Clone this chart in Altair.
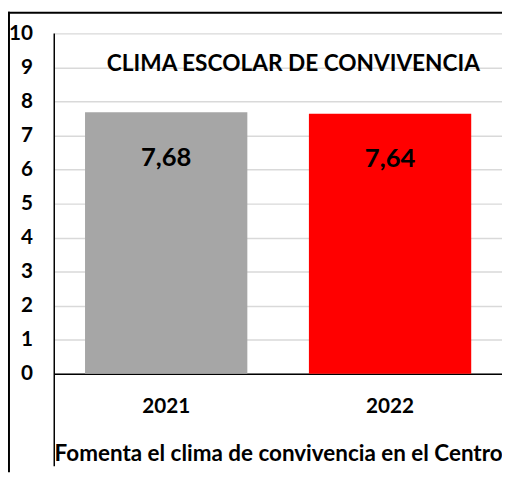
import altair as alt
import pandas as pd

years = ["2021", "2022"]
values = [7.68, 7.64]
colors = ["#A6A6A6", "#FF0000"]
chart_title = "CLIMA ESCOLAR DE CONVIVENCIA"
x_title = "Fomenta el clima de convivencia en el Centro"
y_ticks = list(range(0, 11))

df = pd.DataFrame({
    "year": years,
    "value": values,
    "label": [f"{v:.2f}".replace(".", ",") for v in values],
    "color": colors,
})

FONT = "Lato"
W, H = 455, 346

x_enc = alt.X("year:N", sort=years,
              scale=alt.Scale(paddingInner=0.275, paddingOuter=0.1375),
              axis=alt.Axis(title=x_title, labelAngle=0, ticks=False,
                            domainColor="black", domainWidth=1.5,
                            labelFont=FONT, labelFontSize=21, labelFontWeight="bold",
                            labelColor="black", labelPadding=22,
                            titleFont=FONT, titleFontSize=22.8, titleFontWeight="bold",
                            titleColor="black", titlePadding=27, grid=False))
y_enc = alt.Y("value:Q",
              scale=alt.Scale(domain=[0, 10], nice=False),
              axis=alt.Axis(title=None, values=y_ticks, ticks=False, domain=False,
                            grid=True, gridColor="#D9D9D9", gridWidth=1.5,
                            labelOverlap=False,
                            labelFont=FONT, labelFontSize=21, labelFontWeight="bold",
                            labelColor="black", labelPadding=22))

base = alt.Chart(df)

bars = base.mark_bar().encode(
    x=x_enc,
    y=y_enc,
    color=alt.Color("color:N", scale=None),
)

labels = base.mark_text(font=FONT, fontSize=26, fontWeight="bold", color="black", dy=46).encode(
    x=x_enc,
    y=y_enc,
    text="label:N",
)

title_mark = alt.Chart(pd.DataFrame({"t": [chart_title]})).mark_text(
    font=FONT, fontSize=23, fontWeight="bold", color="black"
).encode(x=alt.value(243), y=alt.value(31), text="t:N")

yline = alt.Chart(pd.DataFrame({"a": [0]})).mark_rule(color="black", strokeWidth=1.5).encode(
    x=alt.value(0), y=alt.value(0), y2=alt.value(440))

border_top = alt.Chart(pd.DataFrame({"a": [0]})).mark_rule(color="black", strokeWidth=2).encode(
    x=alt.value(-47), x2=alt.value(W), y=alt.value(-21))
border_left = alt.Chart(pd.DataFrame({"a": [0]})).mark_rule(color="black", strokeWidth=2).encode(
    x=alt.value(-46), y=alt.value(-22), y2=alt.value(H + 100))

chart = alt.layer(bars, labels, title_mark, yline, border_top, border_left).properties(
    width=W, height=H,
    padding={"left": 47, "top": 22, "right": 0, "bottom": 100},
    autosize="none",
    background="white",
).configure_view(strokeWidth=0)

chart.save("out.html", embed_options={"renderer": "svg", "actions": False})
